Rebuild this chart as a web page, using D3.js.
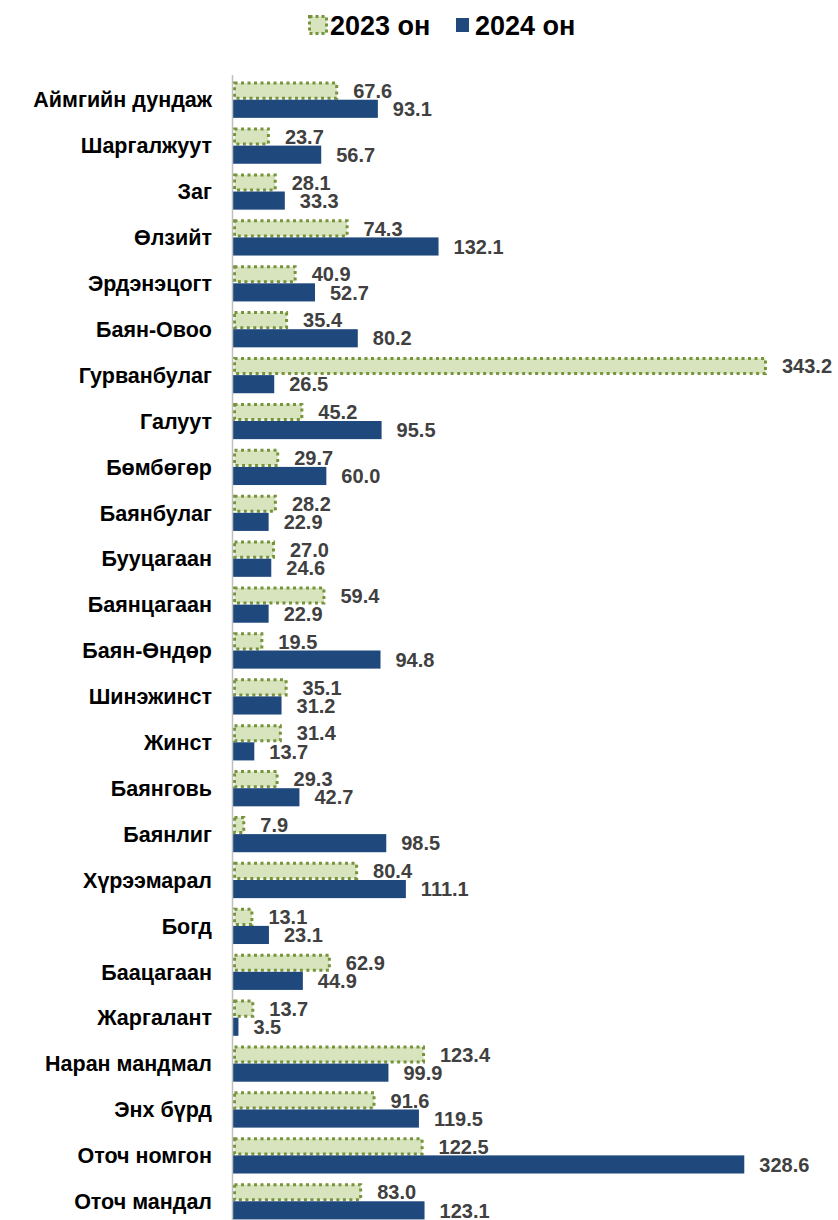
<!DOCTYPE html>
<meta charset="utf-8">
<script src="https://d3js.org/d3.v7.min.js"></script>
<style>
  body { margin: 0; background: #fff; }
  text { font-family: "Liberation Sans", Arial, sans-serif; font-weight: bold; }
</style>
<body>
<div id="my_dataviz"></div>
<script>
// data
var categories = ["Аймгийн дундаж", "Шаргалжуут", "Заг", "Өлзийт", "Эрдэнэцогт", "Баян-Овоо",
  "Гурванбулаг", "Галуут", "Бөмбөгөр", "Баянбулаг", "Бууцагаан", "Баянцагаан", "Баян-Өндөр",
  "Шинэжинст", "Жинст", "Баянговь", "Баянлиг", "Хүрээмарал", "Богд", "Баацагаан", "Жаргалант",
  "Наран мандмал", "Энх бүрд", "Оточ номгон", "Оточ мандал"];
var values2023 = [67.6, 23.7, 28.1, 74.3, 40.9, 35.4, 343.2, 45.2, 29.7, 28.2, 27.0, 59.4, 19.5,
  35.1, 31.4, 29.3, 7.9, 80.4, 13.1, 62.9, 13.7, 123.4, 91.6, 122.5, 83.0];
var values2024 = [93.1, 56.7, 33.3, 132.1, 52.7, 80.2, 26.5, 95.5, 60.0, 22.9, 24.6, 22.9, 94.8,
  31.2, 13.7, 42.7, 98.5, 111.1, 23.1, 44.9, 3.5, 99.9, 119.5, 328.6, 123.1];
var seriesNames = ["2023 он", "2024 он"];

var width = 838, height = 1220;
var margin = {top: 77, left: 233, right: 71, bottom: -4};

var svg = d3.select("#my_dataviz")
  .append("svg")
    .attr("width", width)
    .attr("height", height);

var data = categories.map(function(c, i) {
  return {cat: c, vals: [values2023[i], values2024[i]]};
});

// scales
var x = d3.scaleLinear()
  .domain([0, 343.2])
  .range([margin.left, 767]);

var y = d3.scaleBand()
  .domain(categories)
  .range([margin.top, height - margin.bottom])
  .paddingInner(0.21)
  .paddingOuter(0.1);

var y1 = d3.scaleBand()
  .domain([0, 1])
  .range([0, y.bandwidth()]);

var groups = svg.selectAll(".grp")
  .data(data)
  .enter().append("g")
    .attr("transform", function(d) { return "translate(0," + y(d.cat) + ")"; });

// 2023 bars: light green with dotted border
groups.append("rect")
  .attr("x", x(0) + 1.5)
  .attr("y", y1(0) + 1.5)
  .attr("width", function(d) { return Math.max(0, x(d.vals[0]) - x(0) - 3); })
  .attr("height", y1.bandwidth() - 3)
  .attr("fill", "#d7e4bd")
  .attr("stroke", "#77933c")
  .attr("stroke-width", 3)
  .attr("stroke-dasharray", "3,3.5");

// 2024 bars: dark blue
groups.append("rect")
  .attr("x", x(0))
  .attr("y", y1(1))
  .attr("width", function(d) { return x(d.vals[1]) - x(0); })
  .attr("height", y1.bandwidth())
  .attr("fill", "#1f497d");

// value labels
[0, 1].forEach(function(s) {
  groups.append("text")
    .attr("x", function(d) { return x(d.vals[s]) + 15; })
    .attr("y", y1(s) + y1.bandwidth() / 2)
    .attr("dy", "0.36em")
    .attr("font-size", 20)
    .attr("fill", "#404040")
    .text(function(d) { return d.vals[s].toFixed(1); });
});

// category labels
groups.append("text")
  .attr("x", 212)
  .attr("y", y.bandwidth() / 2)
  .attr("dy", "0.36em")
  .attr("text-anchor", "end")
  .attr("font-size", 21.5)
  .attr("fill", "#000")
  .text(function(d) { return d.cat; });

// axis line
svg.append("line")
  .attr("x1", x(0) - 0.5).attr("x2", x(0) - 0.5)
  .attr("y1", 75).attr("y2", height)
  .attr("stroke", "#bfbfbf")
  .attr("stroke-width", 1.5);

// legend
var legend = svg.append("g");
legend.append("rect")
  .attr("x", 309.5).attr("y", 16.5)
  .attr("width", 17).attr("height", 17)
  .attr("fill", "#d7e4bd")
  .attr("stroke", "#77933c")
  .attr("stroke-width", 3)
  .attr("stroke-dasharray", "3,3");
legend.append("text")
  .attr("x", 330).attr("y", 35)
  .attr("font-size", 27)
  .attr("fill", "#000")
  .text(seriesNames[0]);
legend.append("rect")
  .attr("x", 456).attr("y", 18)
  .attr("width", 13).attr("height", 14)
  .attr("fill", "#1f497d");
legend.append("text")
  .attr("x", 475).attr("y", 35)
  .attr("font-size", 27)
  .attr("fill", "#000")
  .text(seriesNames[1]);
</script>
</body>
